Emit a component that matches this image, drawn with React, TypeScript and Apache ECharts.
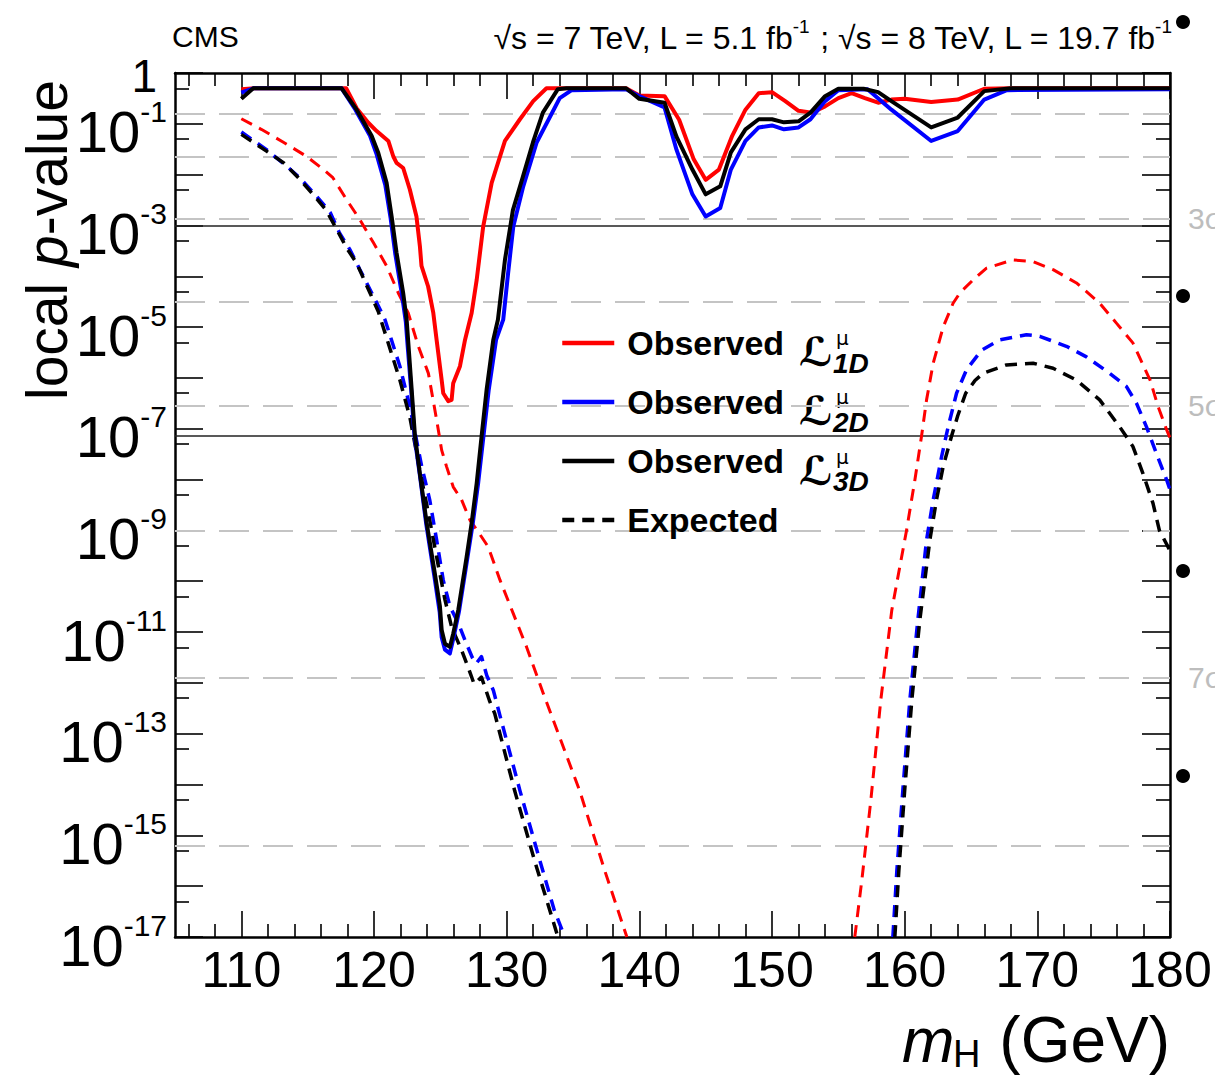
import React, { useEffect, useRef } from "react";
import * as echarts from "echarts";

// ---------- axes ----------
const xLabelTicks = [110, 120, 130, 140, 150, 160, 170, 180];
const xMinorTicks = [106, 108, 112, 114, 116, 118, 122, 124, 126, 128, 132, 134, 136, 138, 142, 144, 146, 148, 152, 154, 156, 158, 162, 164, 166, 168, 172, 174, 176, 178];
const yDecadeTicks = [1e-17, 1e-16, 1e-15, 1e-14, 1e-13, 1e-12, 1e-11, 1e-10, 1e-9, 1e-8, 1e-7, 1e-6, 1e-5, 1e-4, 1e-3, 1e-2, 1e-1, 1];
const yLabelTicks = [1e-17, 1e-15, 1e-13, 1e-11, 1e-9, 1e-7, 1e-5, 1e-3, 1e-1];
const yTopLabel = "1";
const yHalfTicks = [5e-17, 5e-16, 5e-15, 5e-14, 5e-13, 5e-12, 5e-11, 5e-10, 5e-9, 5e-8, 5e-7, 5e-6, 5e-5, 5e-4, 5e-3, 5e-2, 0.5];

// ---------- reference lines ----------
const sigmaNames = ["1σ", "2σ", "3σ", "4σ", "5σ", "6σ", "7σ", "8σ"];
const sigmaP = [0.1587, 0.02275, 1.35e-3, 3.17e-5, 2.87e-7, 9.87e-10, 1.28e-12, 6.22e-16];
const sigmaLabelShown = [false, false, true, false, true, false, true, false];
const solidRefP = [1.0e-3, 7.2e-8];

// ---------- observed ----------
const obs1DMass = [110, 111, 117.9, 118.7, 119.57, 120.2, 121.08, 121.45, 121.7, 122.2, 122.7, 123.2, 123.46, 123.58, 124.08, 124.47, 124.72, 125.1, 125.22, 125.6, 125.85, 125.97, 126.48, 126.86, 127.36, 127.74, 128.23, 128.87, 129.87, 131, 132, 133, 139, 140, 141.9, 143, 144.1, 145, 146, 147, 148, 149, 150, 151, 152, 153, 154, 155, 156, 157, 158, 159, 160, 162, 164, 166, 168, 180];
const obs1DP = [0.48, 0.5, 0.5, 0.2, 0.105, 0.072, 0.046, 0.023, 0.017, 0.0135, 0.0051, 0.0015, 3.9e-4, 1.6e-4, 6.3e-5, 1.9e-5, 5.6e-6, 9.1e-7, 5.0e-7, 3.5e-7, 3.7e-7, 7.9e-7, 1.7e-6, 5.6e-6, 1.9e-5, 8.5e-5, 9.5e-4, 6.9e-3, 0.046, 0.123, 0.28, 0.5, 0.5, 0.36, 0.35, 0.12, 0.02, 0.0079, 0.0126, 0.058, 0.19, 0.40, 0.42, 0.28, 0.18, 0.166, 0.22, 0.32, 0.40, 0.32, 0.26, 0.30, 0.31, 0.27, 0.30, 0.49, 0.5, 0.5];

const obs2DMass = [110, 110.9, 117.56, 118.6, 119.7, 120.2, 120.85, 121.25, 121.6, 122.1, 122.4, 122.5, 122.8, 123.05, 123.45, 123.95, 124.55, 124.95, 125.1, 125.35, 125.72, 126.0, 126.4, 127.05, 127.45, 127.85, 128.25, 128.65, 129.2, 129.74, 130.1, 130.5, 131.25, 132.26, 134.0, 134.9, 139, 140, 141.9, 142.8, 144, 145, 146.1, 146.9, 148, 149, 150, 150.9, 152, 152.9, 154, 155, 157.2, 159, 162, 164, 166, 167.7, 180];
const obs2DP = [0.41, 0.5, 0.5, 0.19, 0.058, 0.025, 0.0063, 0.0014, 2.8e-4, 4.5e-5, 1.26e-5, 5.6e-6, 5.9e-7, 7.1e-8, 1.26e-8, 1.26e-9, 1.26e-10, 2.5e-11, 7.9e-12, 4.5e-12, 3.8e-12, 7.9e-12, 2.5e-11, 3.0e-10, 1.4e-9, 8.5e-9, 7.1e-8, 5.9e-7, 5.6e-6, 1.4e-5, 1.1e-4, 9.5e-4, 5.9e-3, 0.043, 0.32, 0.46, 0.48, 0.35, 0.21, 0.031, 0.0041, 0.0015, 0.0022, 0.0126, 0.046, 0.085, 0.093, 0.078, 0.085, 0.123, 0.28, 0.46, 0.48, 0.19, 0.046, 0.072, 0.30, 0.46, 0.48];

const obs3DMass = [110, 110.9, 117.56, 118.69, 119.82, 120.32, 120.95, 121.33, 121.7, 122.2, 122.46, 122.57, 122.84, 123.09, 123.46, 123.97, 124.59, 124.97, 125.1, 125.35, 125.72, 125.97, 126.35, 126.98, 127.36, 127.74, 128.11, 128.49, 128.99, 129.34, 129.87, 130.47, 131.22, 131.98, 132.73, 133.86, 134.5, 139, 140, 141.9, 142.8, 144, 145, 146.1, 146.9, 148, 149, 150, 150.9, 152, 152.9, 154, 155, 156.9, 158, 159, 162, 164, 166, 168, 180];
const obs3DP = [0.31, 0.5, 0.5, 0.19, 0.058, 0.027, 0.0069, 0.0015, 2.9e-4, 4.7e-5, 1.4e-5, 5.6e-6, 5.9e-7, 7.1e-8, 1.3e-8, 1.4e-9, 1.4e-10, 3.2e-11, 1.1e-11, 5.9e-12, 5.1e-12, 9.3e-12, 2.7e-11, 3.0e-10, 1.4e-9, 8.5e-9, 7.1e-8, 5.9e-7, 5.6e-6, 1.4e-5, 2.1e-4, 2.0e-3, 9.1e-3, 0.043, 0.166, 0.48, 0.5, 0.5, 0.31, 0.26, 0.056, 0.0126, 0.0041, 0.0059, 0.0275, 0.078, 0.123, 0.123, 0.107, 0.112, 0.166, 0.35, 0.49, 0.49, 0.42, 0.28, 0.085, 0.133, 0.44, 0.5, 0.5];

// ---------- expected ----------
const exp1DMassLow = [110, 111.5, 113.2, 114.9, 116.2, 116.9, 117.94, 118.94, 119.95, 120.95, 121.83, 122.58, 123.34, 124.1, 124.72, 125.1, 125.47, 125.97, 126.6, 127.23, 127.86, 128.6, 129.5, 130.5, 131.5, 132.76, 135.5, 137.4, 139.06];
const exp1DPLow = [0.126, 0.078, 0.043, 0.023, 0.0126, 0.0087, 0.0032, 0.0013, 4.6e-4, 1.6e-4, 4.7e-5, 1.9e-5, 4.2e-6, 1.23e-6, 1.5e-7, 3.8e-8, 1.8e-8, 7.2e-9, 4.0e-9, 1.6e-9, 9.3e-10, 4.8e-10, 1.05e-10, 2.3e-11, 5.1e-12, 6.2e-13, 7.6e-15, 2.0e-16, 1e-17];
const exp1DMassHigh = [156.24, 156.77, 157.45, 158.2, 159.03, 160.14, 160.77, 161.27, 161.65, 162.15, 162.9, 163.65, 164.16, 165.16, 166.17, 168.17, 169.68, 171.19, 172.95, 174.7, 175.96, 177.2, 178.5, 179.1, 179.75, 180];
const exp1DPHigh = [1e-17, 1.3e-16, 4.9e-15, 4.6e-13, 2.7e-11, 1.0e-9, 9.8e-9, 7.1e-8, 3.7e-7, 1.95e-6, 1.0e-5, 2.95e-5, 4.7e-5, 8.5e-5, 1.45e-4, 2.1e-4, 1.95e-4, 1.35e-4, 7.4e-5, 2.95e-5, 1.2e-5, 4.9e-6, 9.1e-7, 2.75e-7, 9.5e-8, 6.6e-8];

const exp2DMassLow = [110, 111.9, 113.4, 114.4, 115.7, 116.7, 117.4, 118.2, 118.94, 120.33, 120.83, 121.95, 122.7, 123.6, 124.2, 124.72, 125.22, 125.72, 126.35, 126.86, 127.4, 127.7, 128.1, 128.5, 129.0, 129.49, 131.0, 132.5, 133.6, 134.39];
const exp2DPLow = [0.069, 0.031, 0.0148, 0.0087, 0.0037, 0.0018, 7.1e-4, 3.3e-4, 1.35e-4, 2.6e-5, 1.4e-5, 1.7e-6, 2.75e-7, 1.8e-8, 4.0e-9, 6.5e-10, 1.05e-10, 3.2e-11, 1.5e-11, 6.9e-12, 3.2e-12, 2.4e-12, 3.3e-12, 1.4e-12, 7.1e-13, 2.3e-13, 7.6e-15, 3.2e-16, 3.3e-17, 1e-17];
const exp2DMassHigh = [159.11, 159.41, 159.86, 160.39, 160.99, 161.65, 162.15, 162.78, 163.28, 163.91, 164.66, 165.79, 167.17, 169.18, 170.18, 172.19, 173.7, 175.46, 176.71, 177.47, 178.22, 178.97, 179.75, 180];
const exp2DPHigh = [1e-17, 2.0e-16, 7.6e-15, 4.6e-13, 1.7e-11, 6.5e-10, 4.0e-9, 2.8e-8, 1.1e-7, 5.0e-7, 1.45e-6, 3.5e-6, 5.6e-6, 7.1e-6, 6.6e-6, 4.2e-6, 2.6e-6, 1.23e-6, 6.8e-7, 3.2e-7, 1.1e-7, 3.3e-8, 9.8e-9, 6.3e-9];

const exp3DMassLow = [110, 111.9, 113.2, 114.3, 115.4, 116.4, 117.2, 117.94, 118.7, 119.7, 120.33, 121.95, 122.7, 123.46, 124.1, 124.72, 125.35, 125.85, 126.6, 127.1, 127.55, 128.1, 128.7, 129.1, 130.6, 132.1, 133.26, 133.86];
const exp3DPLow = [0.062, 0.029, 0.017, 0.0087, 0.0041, 0.002, 8.3e-4, 3.6e-4, 1.8e-4, 4.7e-5, 2.0e-5, 9.1e-7, 1.7e-7, 1.5e-8, 2.2e-9, 3.0e-10, 4.3e-11, 1.26e-11, 4.4e-12, 2.0e-12, 9.5e-13, 1.3e-12, 4.5e-13, 2.5e-13, 7.6e-15, 3.2e-16, 3.3e-17, 1e-17];
const exp3DMassHigh = [159.26, 159.56, 160.0, 160.54, 161.14, 161.9, 162.4, 162.9, 163.53, 164.0, 164.6, 165.3, 165.91, 167.67, 169.68, 171.19, 172.95, 174.7, 176.2, 177.2, 177.97, 178.72, 179.2, 180];
const exp3DPHigh = [1e-17, 2.0e-16, 7.6e-15, 4.6e-13, 1.7e-11, 6.5e-10, 4.0e-9, 1.8e-8, 7.1e-8, 1.8e-7, 5.0e-7, 8.9e-7, 1.23e-6, 1.8e-6, 1.95e-6, 1.55e-6, 9.1e-7, 3.7e-7, 1.1e-7, 4.5e-8, 1.3e-8, 3.4e-9, 1.0e-9, 4.0e-10];

// ---------- texts ----------
const legendNames = ["obs1D", "obs2D", "obs3D", "Expected"];
const legendSubscripts = ["1D", "2D", "3D"];

const FONT = "'Liberation Sans', Arial, Helvetica, sans-serif";

const pairs = (m: number[], p: number[]) => m.map((x, i) => [x, p[i]]);
const withGap = (mL: number[], pL: number[], mH: number[], pH: number[]) => [
  ...pairs(mL, pL),
  [(mL[mL.length - 1] + mH[0]) / 2, "-"],
  ...pairs(mH, pH),
];

function buildOption() {
  const axisLine = { show: true, onZero: false, lineStyle: { color: "#000", width: 2.5 } };
  const tickStyle = { color: "#000", width: 1.6 };
  const xBase = { type: "value", min: 105, max: 180, splitLine: { show: false } };
  const yBase = { type: "log", logBase: 10, min: 1e-17, max: 1, splitLine: { show: false } };

  const yFormatter = (v: number) => `{b|10}{s|${Math.round(Math.log10(v))}}`;

  const xAxis = [
    {
      ...xBase, position: "bottom", axisLine,
      axisTick: { show: true, inside: true, length: 26, customValues: xLabelTicks, lineStyle: tickStyle },
      axisLabel: { show: true, customValues: xLabelTicks, fontSize: 50, fontFamily: FONT, color: "#000", margin: 8, showMinLabel: true, showMaxLabel: true, hideOverlap: false },
    },
    {
      ...xBase, position: "bottom", axisLine: { show: false },
      axisTick: { show: true, inside: true, length: 13, customValues: xMinorTicks, lineStyle: tickStyle },
      axisLabel: { show: false },
    },
    {
      ...xBase, position: "top", axisLine,
      axisTick: { show: true, inside: true, length: 26, customValues: xLabelTicks, lineStyle: tickStyle },
      axisLabel: { show: false },
    },
    {
      ...xBase, position: "top", axisLine: { show: false },
      axisTick: { show: true, inside: true, length: 13, customValues: xMinorTicks, lineStyle: tickStyle },
      axisLabel: { show: false },
    },
  ];

  const yAxis = [
    {
      ...yBase, position: "left", axisLine,
      axisTick: { show: true, inside: true, length: 28, customValues: yDecadeTicks, lineStyle: tickStyle },
      axisLabel: {
        show: true, customValues: yLabelTicks, margin: 8, formatter: yFormatter,
        showMinLabel: true, showMaxLabel: true, hideOverlap: false,
        rich: {
          b: { fontSize: 58, fontFamily: FONT, color: "#000", height: 50, lineHeight: 66, verticalAlign: "bottom" },
          s: { fontSize: 30, fontFamily: FONT, color: "#000", height: 42, lineHeight: 66, verticalAlign: "top" },
        },
      },
    },
    {
      ...yBase, position: "left", axisLine: { show: false },
      axisTick: { show: true, inside: true, length: 14, customValues: yHalfTicks, lineStyle: tickStyle },
      axisLabel: { show: false },
    },
    {
      ...yBase, position: "right", axisLine,
      axisTick: { show: true, inside: true, length: 28, customValues: yDecadeTicks, lineStyle: tickStyle },
      axisLabel: { show: false },
    },
    {
      ...yBase, position: "right", axisLine: { show: false },
      axisTick: { show: true, inside: true, length: 14, customValues: yHalfTicks, lineStyle: tickStyle },
      axisLabel: { show: false },
    },
  ];

  const markLineData: any[] = sigmaP.map((p, i) => ({
    yAxis: p,
    name: sigmaNames[i],
    label: sigmaLabelShown[i]
      ? { show: true, position: "end", formatter: sigmaNames[i], color: "#bdbdbd", fontSize: 30, fontFamily: FONT, distance: 18 }
      : { show: false },
  }));
  solidRefP.forEach((p) => {
    markLineData.push({ yAxis: p, label: { show: false }, lineStyle: { color: "#222", width: 1.5, type: "solid" } });
  });

  const lineCommon = { type: "line", symbol: "none", showSymbol: false, xAxisIndex: 0, yAxisIndex: 0, clip: true, silent: true };
  const dash = [12, 8];

  const series = [
    {
      ...lineCommon, name: "exp1D", z: 2,
      data: withGap(exp1DMassLow, exp1DPLow, exp1DMassHigh, exp1DPHigh),
      lineStyle: { color: "#ff0000", width: 3, type: dash, join: "round" },
      itemStyle: { color: "#ff0000" },
      markLine: {
        silent: true, symbol: ["none", "none"], z: 1, animation: false, precision: 20,
        label: { show: false },
        lineStyle: { color: "#c4c4c4", width: 2, type: [30, 14] },
        data: markLineData,
      },
    },
    {
      ...lineCommon, name: "exp2D", z: 2,
      data: withGap(exp2DMassLow, exp2DPLow, exp2DMassHigh, exp2DPHigh),
      lineStyle: { color: "#0000ff", width: 3.5, type: dash, join: "round" },
      itemStyle: { color: "#0000ff" },
    },
    {
      ...lineCommon, name: "Expected", z: 2,
      data: withGap(exp3DMassLow, exp3DPLow, exp3DMassHigh, exp3DPHigh),
      lineStyle: { color: "#000000", width: 3.5, type: dash, join: "round" },
      itemStyle: { color: "#000000" },
    },
    {
      ...lineCommon, name: "obs1D", z: 3,
      data: pairs(obs1DMass, obs1DP),
      lineStyle: { color: "#ff0000", width: 4, join: "round" },
      itemStyle: { color: "#ff0000" },
    },
    {
      ...lineCommon, name: "obs2D", z: 4,
      data: pairs(obs2DMass, obs2DP),
      lineStyle: { color: "#0000ff", width: 4, join: "round" },
      itemStyle: { color: "#0000ff" },
    },
    {
      ...lineCommon, name: "obs3D", z: 5,
      data: pairs(obs3DMass, obs3DP),
      lineStyle: { color: "#000000", width: 4, join: "round" },
      itemStyle: { color: "#000000" },
    },
  ];

  const graphic: any[] = [
    { type: "text", x: 157, y: 76, style: { text: yTopLabel, fontSize: 46, lineHeight: 30, fontFamily: FONT, fill: "#000", align: "right", verticalAlign: "middle" } },
    { type: "text", x: 172, y: 36, style: { text: "CMS", fontSize: 30, fontFamily: FONT, fill: "#000", verticalAlign: "middle" } },
    {
      type: "text", x: 1172, y: 36,
      style: {
        text: "{n|√s = 7 TeV, L = 5.1 fb}{s|-1}{n| ; √s = 8 TeV, L = 19.7 fb}{s|-1}",
        align: "right", verticalAlign: "middle", fill: "#000",
        rich: {
          n: { fontSize: 32, fontFamily: FONT, fill: "#000", height: 36, lineHeight: 40, verticalAlign: "bottom" },
          s: { fontSize: 19, fontFamily: FONT, fill: "#000", height: 20, lineHeight: 40, verticalAlign: "top" },
        },
      },
    },
    {
      type: "text", x: 47, y: 240, rotation: Math.PI / 2,
      style: {
        text: "{n|local }{i|p}{n|-value}", align: "center", verticalAlign: "middle", fill: "#000",
        rich: {
          n: { fontSize: 57, fontFamily: FONT, fill: "#000" },
          i: { fontSize: 57, fontFamily: FONT, fontStyle: "italic", fill: "#000" },
        },
      },
    },
    { type: "text", x: 902, y: 1040, style: { text: "m", fontSize: 63, fontStyle: "italic", fontFamily: FONT, fill: "#000", verticalAlign: "middle" } },
    { type: "text", x: 953, y: 1073, style: { text: "H", fontSize: 38, fontFamily: FONT, fill: "#000", verticalAlign: "bottom" } },
    { type: "text", x: 1170, y: 1040, style: { text: "(GeV)", fontSize: 64, fontFamily: FONT, fill: "#000", align: "right", verticalAlign: "middle" } },
  ];

  legendSubscripts.forEach((sub, i) => {
    const ly = 343 + i * 59.3;
    graphic.push(
      { type: "text", x: 833, y: ly + 9, style: { text: "ℒ", fontSize: 40, fontStyle: "italic", fontWeight: "bold", fontFamily: "'DejaVu Sans', 'Noto Sans', sans-serif", fill: "#000", align: "right", verticalAlign: "middle" } },
      {
        type: "text", x: 833, y: ly + 9,
        style: {
          text: `{mu|μ}\n{sub|${sub}}`, align: "left", verticalAlign: "middle", fill: "#000",
          rich: {
            mu: { fontSize: 20, height: 22, lineHeight: 22, fontFamily: "'DejaVu Sans', sans-serif", fill: "#000", padding: [0, 0, 0, 3] },
            sub: { fontSize: 28, height: 28, lineHeight: 28, fontStyle: "italic", fontWeight: "bold", fontFamily: FONT, fill: "#000" },
          },
        },
      },
    );
  });

  [22, 296, 571, 776].forEach((cy) => {
    graphic.push({ type: "circle", shape: { cx: 1183, cy, r: 7 }, style: { fill: "#000" } });
  });

  return {
    animation: false,
    backgroundColor: "#fff",
    textStyle: { fontFamily: FONT },
    grid: { left: 175, right: 45, top: 73, bottom: 140, containLabel: false, outerBoundsMode: "none" },
    xAxis,
    yAxis,
    legend: {
      show: true,
      data: legendNames,
      orient: "vertical",
      left: 560,
      top: 323,
      padding: 0,
      itemWidth: 52,
      itemHeight: 4,
      itemGap: 19,
      selectedMode: false,
      itemStyle: { opacity: 0 },
      lineStyle: { width: 4.5 },
      formatter: (n: string) => (n === "Expected" ? "Expected" : "Observed"),
      textStyle: { fontSize: 34, fontWeight: "bold", fontFamily: FONT, color: "#000", lineHeight: 40, padding: [0, 0, 0, 8] },
    },
    series,
    graphic,
  };
}

export default function App() {
  const ref = useRef<HTMLDivElement>(null);
  useEffect(() => {
    document.body.style.margin = "0";
    const chart = echarts.init(ref.current as HTMLDivElement, undefined, { renderer: "svg" });
    chart.setOption(buildOption() as any);
    return () => chart.dispose();
  }, []);
  return <div ref={ref} style={{ width: 1215, height: 1077 }} />;
}
